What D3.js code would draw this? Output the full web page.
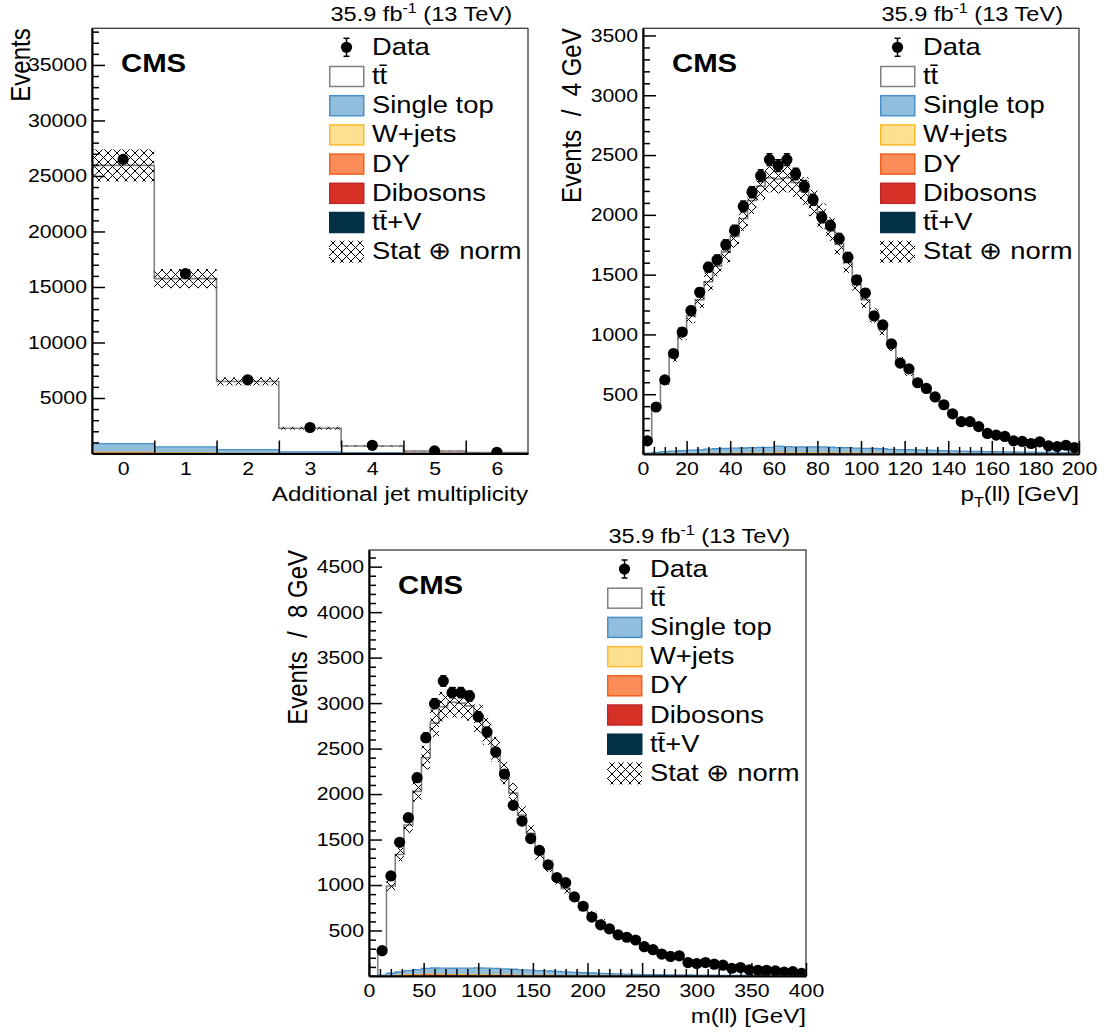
<!DOCTYPE html>
<html><head><meta charset="utf-8">
<script src="https://cdn.jsdelivr.net/npm/d3@7"></script>
<style>
body{margin:0;background:#fff}
svg text{font-family:"Liberation Sans",Arial,Helvetica,sans-serif;fill:#000}
</style>
</head><body>
<svg id="chart" width="1104" height="1034"></svg>
<script>
// ---------------- DATA ----------------
const lumiLabel = "35.9 fb";
const legendLabels = ["Data", "tt\u0304", "Single top", "W+jets", "DY", "Dibosons", "tt\u0304+V", "Stat \u2295 norm"];

// Panel 1: additional jet multiplicity
const njetCategories = ["0", "1", "2", "3", "4", "5", "6"];
const njetData      = [26490, 16200, 6640, 2340, 740, 230, 110];
const njetTotalMC   = [25950, 15750, 6490, 2276, 682, 220, 80];
const njetUnc       = [1450, 860, 360, 130, 45, 18, 8];
const njetSingleTop = [730, 480, 280, 110, 40, 12, 4];
const njetWjets     = [5, 3, 2, 1, 0, 0, 0];
const njetDY        = [110, 60, 30, 12, 5, 2, 1];
const njetDiboson   = [25, 15, 8, 4, 2, 1, 0];
const njetTTV       = [20, 30, 25, 15, 8, 3, 1];

// Panel 2: pT(ll), 4 GeV bins from 0 to 200
const ptData = [110, 393, 620, 840, 1020, 1200, 1352, 1562, 1624, 1750,
  1870, 2071, 2189, 2328, 2462, 2412, 2462, 2342, 2239, 2127,
  1979, 1910, 1801, 1645, 1455, 1346, 1155, 1079, 921, 760,
  712, 596, 548, 477, 412, 336, 271, 271, 229, 172,
  158, 147, 110, 105, 88, 102, 68, 62, 73, 54];
const ptTotalMC = [105, 385, 610, 815, 1005, 1155, 1290, 1440, 1570, 1690,
  1820, 1970, 2120, 2240, 2310, 2300, 2310, 2270, 2200, 2100,
  1990, 1880, 1760, 1600, 1420, 1290, 1160, 1050, 910, 770,
  690, 600, 535, 470, 405, 335, 285, 255, 215, 175,
  155, 135, 115, 100, 90, 80, 70, 62, 55, 50];
const ptUnc = [6, 20, 32, 43, 53, 61, 68, 76, 83, 90,
  96, 104, 112, 118, 122, 122, 122, 120, 116, 111,
  105, 100, 93, 85, 75, 68, 61, 56, 48, 41,
  37, 32, 28, 25, 22, 18, 15, 14, 12, 10,
  9, 8, 7, 6, 5, 5, 4, 4, 3, 3];
const ptSingleTop = [6, 11, 15, 18, 21, 24, 27, 30, 33, 35,
  37, 39, 40, 42, 43, 50, 46, 45, 45, 46,
  45, 43, 41, 39, 37, 36, 34, 33, 30, 28,
  27, 25, 24, 22, 21, 19, 18, 16, 16, 15,
  14, 13, 13, 12, 11, 10, 10, 9, 9, 8];
const ptDY = [1, 2, 3, 3, 4, 5, 5, 6, 6, 7,
  7, 7, 8, 8, 8, 9, 8, 8, 8, 8,
  8, 8, 7, 7, 7, 6, 6, 6, 5, 5,
  5, 5, 4, 4, 4, 4, 3, 3, 3, 3,
  3, 3, 2, 2, 2, 2, 2, 2, 2, 2];
const ptWjets = [0, 0, 0, 1, 0, 1, 0, 1, 1, 0,
  1, 0, 1, 1, 0, 1, 1, 0, 1, 0,
  0, 1, 0, 1, 0, 0, 1, 0, 0, 0,
  0, 0, 1, 0, 0, 0, 0, 0, 0, 0,
  0, 0, 0, 0, 0, 0, 0, 0, 0, 0];
const ptDiboson = [0, 1, 1, 1, 1, 1, 2, 2, 2, 2,
  2, 2, 2, 2, 3, 3, 3, 3, 3, 3,
  3, 3, 3, 3, 2, 2, 2, 2, 2, 2,
  2, 2, 2, 2, 1, 1, 1, 1, 1, 1,
  1, 1, 1, 1, 1, 1, 1, 1, 1, 1];
const ptTTV = [0, 0, 1, 1, 1, 1, 1, 1, 2, 2,
  2, 2, 2, 2, 2, 3, 3, 3, 3, 3,
  3, 3, 3, 3, 3, 3, 3, 3, 2, 2,
  2, 2, 2, 2, 2, 2, 2, 2, 1, 1,
  1, 1, 1, 1, 1, 1, 1, 0, 0, 0];

// Panel 3: m(ll), 8 GeV bins from 0 to 400
const mllData = [0, 278, 1100, 1470, 1740, 2180, 2620, 2994, 3243, 3115,
  3115, 3078, 2851, 2682, 2462, 2220, 1876, 1703, 1511, 1380,
  1222, 1081, 1026, 870, 767, 648, 563, 519, 452, 426,
  396, 322, 289, 241, 215, 222, 148, 137, 148, 130,
  119, 85, 93, 67, 63, 63, 56, 44, 48, 30];
const mllTotalMC = [0, 285, 990, 1335, 1660, 2030, 2400, 2780, 2960, 3010,
  3000, 2970, 2830, 2690, 2490, 2230, 2010, 1770, 1570, 1350,
  1210, 1065, 960, 860, 765, 680, 595, 525, 465, 420,
  380, 330, 290, 255, 225, 200, 175, 155, 140, 125,
  110, 95, 85, 75, 68, 60, 53, 47, 42, 37];
const mllUnc = [0, 16, 54, 73, 91, 112, 132, 153, 163, 166,
  165, 163, 156, 148, 137, 123, 111, 97, 86, 74,
  67, 59, 53, 47, 42, 37, 33, 29, 26, 23,
  21, 18, 16, 14, 12, 11, 10, 9, 8, 7,
  6, 5, 5, 4, 4, 3, 3, 3, 2, 2];
const mllSingleTop = [0, 6, 18, 28, 38, 47, 57, 62, 62, 62,
  65, 67, 69, 66, 64, 60, 57, 53, 50, 46,
  42, 38, 35, 31, 28, 25, 22, 19, 17, 16,
  14, 12, 11, 10, 9, 8, 8, 7, 6, 6,
  5, 5, 5, 5, 4, 4, 4, 3, 3, 3];
const mllDY = [0, 3, 9, 12, 15, 17, 19, 18, 16, 14,
  13, 12, 12, 11, 10, 10, 9, 8, 8, 7,
  7, 6, 5, 5, 4, 4, 3, 3, 3, 2,
  2, 2, 2, 2, 2, 2, 1, 1, 1, 1,
  1, 1, 1, 1, 1, 1, 1, 1, 1, 1];
const mllWjets = [0, 0, 1, 1, 1, 1, 2, 1, 1, 2,
  1, 1, 1, 1, 1, 0, 1, 0, 0, 0,
  0, 0, 0, 0, 0, 0, 0, 0, 0, 0,
  0, 0, 0, 0, 0, 0, 0, 0, 0, 0,
  0, 0, 0, 0, 0, 0, 0, 0, 0, 0];
const mllDiboson = [0, 0, 1, 2, 3, 3, 3, 4, 4, 4,
  4, 4, 4, 4, 4, 4, 3, 3, 3, 3,
  3, 3, 2, 2, 2, 2, 2, 2, 1, 1,
  1, 1, 1, 1, 1, 1, 1, 1, 1, 1,
  1, 1, 0, 0, 0, 0, 0, 0, 0, 0];
const mllTTV = [0, 0, 1, 1, 2, 2, 3, 3, 3, 3,
  3, 3, 4, 4, 4, 4, 4, 4, 3, 3,
  3, 3, 3, 2, 2, 2, 2, 2, 2, 1,
  1, 1, 1, 1, 1, 1, 1, 1, 1, 0,
  0, 0, 0, 0, 0, 0, 0, 0, 0, 0];

// ---------------- STYLE ----------------
const SX = 1.15; // horizontal glyph stretch of the reference rendering
const colors = {
  ttv: {fill: "#023047", stroke: "#023047"},
  dib: {fill: "#d73027", stroke: "#c0262a"},
  dy:  {fill: "#fc8d59", stroke: "#f0611f"},
  wj:  {fill: "#fee090", stroke: "#fdb92c"},
  st:  {fill: "#91bfdb", stroke: "#4a90c8"},
  tt:  {fill: "#ffffff", stroke: "#808080"}
};

const svg = d3.select("#chart");
svg.append("rect").attr("width", 1104).attr("height", 1034).attr("fill", "#fff");
const defs = svg.append("defs");
const pat = defs.append("pattern").attr("id", "hatch").attr("patternUnits", "userSpaceOnUse")
  .attr("width", 9).attr("height", 9);
pat.append("path").attr("d", "M-1,-1L10,10M10,-1L-1,10").attr("stroke", "#000").attr("stroke-width", 1).attr("fill", "none");

function txt(parent, x, y, size, opts = {}) {
  const t = parent.append("text")
    .attr("transform", `translate(${x},${y}) scale(${SX},1)` + (opts.rot ? ` rotate(${opts.rot})` : ""))
    .attr("font-size", size)
    .attr("text-anchor", opts.anchor || "start")
    .attr("font-weight", opts.weight || "normal")
    .attr("xml:space", "preserve")
    .style("white-space", "pre");
  return t;
}

function drawPanel(p) {
  const g = svg.append("g");
  const x = d3.scaleLinear().domain(p.xDomain).range([p.L, p.R]);
  const y = d3.scaleLinear().domain([0, p.yMax]).range([p.B, p.T]);
  const n = p.data.length;
  const clipId = "clip-" + p.id;
  defs.append("clipPath").attr("id", clipId).append("rect")
    .attr("x", p.L).attr("y", p.T).attr("width", p.R - p.L).attr("height", p.B - p.T);
  const plot = g.append("g").attr("clip-path", `url(#${clipId})`);

  const rows = d3.range(n).map(i => ({ttv: p.ttv[i], dib: p.dib[i], dy: p.dy[i], wj: p.wj[i], st: p.st[i]}));
  const series = d3.stack().keys(["ttv", "dib", "dy", "wj", "st"])(rows);
  const pts = (f0, f1) => {
    const a = d3.range(n).map(i => ({x: p.edges[i], y0: f0(i), y1: f1(i)}));
    a.push({x: p.edges[n], y0: f0(n - 1), y1: f1(n - 1)});
    return a;
  };
  const area = d3.area().x(d => x(d.x)).y0(d => y(d.y0)).y1(d => y(d.y1)).curve(d3.curveStepAfter);
  const line = d3.line().x(d => x(d.x)).y(d => y(d.y1)).curve(d3.curveStepAfter);
  const bkgTop = i => series[series.length - 1][i][1];

  // ttbar (white) on top of the backgrounds
  plot.append("path").attr("d", area(pts(bkgTop, i => p.total[i]))).attr("fill", colors.tt.fill);
  series.forEach(s => {
    const c = colors[s.key];
    plot.append("path").attr("d", area(pts(i => s[i][0], i => s[i][1]))).attr("fill", c.fill);
    plot.append("path").attr("d", line(pts(i => s[i][0], i => s[i][1])))
      .attr("fill", "none").attr("stroke", c.stroke).attr("stroke-width", 1.3);
  });
  const outline = [{x: p.edges[0], y1: 0}]
    .concat(d3.range(n).map(i => ({x: p.edges[i], y1: p.total[i]})))
    .concat([{x: p.edges[n], y1: p.total[n - 1]}, {x: p.edges[n], y1: 0}]);
  plot.append("path").attr("d", line(outline)).attr("fill", "none")
    .attr("stroke", colors.tt.stroke).attr("stroke-width", 1.6);

  // uncertainty band
  plot.selectAll(null).data(d3.range(n).filter(i => p.unc[i] > 0)).join("rect")
    .attr("x", i => x(p.edges[i])).attr("width", i => x(p.edges[i + 1]) - x(p.edges[i]))
    .attr("y", i => y(p.total[i] + p.unc[i]))
    .attr("height", i => y(p.total[i] - p.unc[i]) - y(p.total[i] + p.unc[i]))
    .attr("fill", "url(#hatch)");

  // data points
  const di = d3.range(n).filter(i => p.data[i] > 0);
  const cx = i => x((p.edges[i] + p.edges[i + 1]) / 2);
  const err = i => Math.sqrt(p.data[i]);
  const dg = plot.append("g");
  dg.selectAll(null).data(di).join("line")
    .attr("x1", cx).attr("x2", cx)
    .attr("y1", i => y(p.data[i] + err(i))).attr("y2", i => y(p.data[i] - err(i)))
    .attr("stroke", "#000").attr("stroke-width", 1.5);
  dg.selectAll(null).data(di.flatMap(i => [[i, 1], [i, -1]])).join("line")
    .attr("x1", d => cx(d[0]) - 3).attr("x2", d => cx(d[0]) + 3)
    .attr("y1", d => y(p.data[d[0]] + d[1] * err(d[0]))).attr("y2", d => y(p.data[d[0]] + d[1] * err(d[0])))
    .attr("stroke", "#000").attr("stroke-width", 1.5);
  dg.selectAll(null).data(di).join("circle")
    .attr("cx", cx).attr("cy", i => y(p.data[i])).attr("r", 5.6).attr("fill", "#000");

  // frame
  g.append("rect").attr("x", p.L).attr("y", p.T).attr("width", p.R - p.L).attr("height", p.B - p.T)
    .attr("fill", "none").attr("stroke", "#3a3a3a").attr("stroke-width", 1.3);

  const styleAxis = (ax, labelSize) => {
    ax.attr("font-size", null).attr("font-family", null);
    ax.selectAll(".tick line").attr("stroke", "#000").attr("stroke-width", 1.5);
    ax.select(".domain").attr("stroke", "#000").attr("stroke-width", 2);
    ax.selectAll("text").attr("font-size", labelSize).attr("fill", "#000")
      .each(function () {
        const t = d3.select(this);
        t.attr("x", (+t.attr("x") || 0) / SX).attr("transform", `scale(${SX},1)`);
      });
  };

  // y axis
  const ya = g.append("g").attr("transform", `translate(${p.L},0)`)
    .call(d3.axisLeft(y).tickValues(p.yMajor).tickSizeInner(-13).tickSizeOuter(0).tickPadding(5).tickFormat(d3.format("d")));
  styleAxis(ya, 18.5);
  const yam = g.append("g").attr("transform", `translate(${p.L},0)`)
    .call(d3.axisLeft(y).tickValues(p.yMinor).tickSizeInner(-7).tickSizeOuter(0).tickFormat(""));
  yam.select(".domain").remove();
  styleAxis(yam, 18.5);

  // x axis
  const xa = g.append("g").attr("transform", `translate(0,${p.B})`)
    .call(d3.axisBottom(x).tickValues(p.xMajor).tickSizeInner(-13).tickSizeOuter(0).tickPadding(8)
      .tickFormat(p.xLabels ? "" : d3.format("d")));
  styleAxis(xa, 18.5);
  if (p.xMinor) {
    const xam = g.append("g").attr("transform", `translate(0,${p.B})`)
      .call(d3.axisBottom(x).tickValues(p.xMinor).tickSizeInner(-7).tickSizeOuter(0).tickFormat(""));
    xam.select(".domain").remove();
    styleAxis(xam, 18.5);
  }
  if (p.xLabels) {
    const xl = g.append("g").attr("transform", `translate(0,${p.B})`)
      .call(d3.axisBottom(x).tickValues(d3.range(p.xLabels.length)).tickSize(0).tickPadding(8)
        .tickFormat(i => p.xLabels[i]));
    xl.select(".domain").remove();
    styleAxis(xl, 18.5);
  }

  // luminosity label
  const lt = txt(g, p.R - 16, p.T - 7, 20.5, {anchor: "end"});
  lt.append("tspan").text(lumiLabel);
  lt.append("tspan").attr("font-size", 14).attr("dy", -8).text("-1");
  lt.append("tspan").attr("font-size", 20.5).attr("dy", 8).text(" (13 TeV)");

  // CMS
  txt(g, p.L + 29, p.T + 43.5, 25.5, {weight: "bold"}).text("CMS");

  // axis titles
  p.xTitle(txt(g, p.R, p.B + 47, 21, {anchor: "end"}));
  txt(g, p.L - 62, p.T, 24, {anchor: "end", rot: -90}).text(p.yTitle);

  // legend
  const lx = p.R - 199, ly0 = p.T + 19, step = 29.2;
  const lg = g.append("g");
  const boxKeys = [null, "tt", "st", "wj", "dy", "dib", "ttv", "hatch"];
  legendLabels.forEach((lab, k) => {
    const cy = ly0 + k * step;
    if (k === 0) {
      const mx = lx + 17.5;
      lg.append("line").attr("x1", mx).attr("x2", mx).attr("y1", cy - 9).attr("y2", cy + 9).attr("stroke", "#000").attr("stroke-width", 1.5);
      [-9, 9].forEach(o => lg.append("line").attr("x1", mx - 3).attr("x2", mx + 3).attr("y1", cy + o).attr("y2", cy + o).attr("stroke", "#000").attr("stroke-width", 1.5));
      lg.append("circle").attr("cx", mx).attr("cy", cy).attr("r", 5.6).attr("fill", "#000");
    } else if (boxKeys[k] === "hatch") {
      lg.append("rect").attr("x", lx).attr("y", cy - 11).attr("width", 35).attr("height", 22).attr("fill", "url(#hatch)");
    } else {
      const c = colors[boxKeys[k]];
      lg.append("rect").attr("x", lx + 0.75).attr("y", cy - 10).attr("width", 34).attr("height", 20)
        .attr("fill", c.fill).attr("stroke", c.stroke).attr("stroke-width", 1.5);
    }
    txt(lg, p.R - 156, cy + 7.5, 23.8).text(lab);
  });
}

drawPanel({
  id: "njet", L: 92, R: 528, T: 28.3, B: 453.5,
  xDomain: [-0.5, 6.5], edges: d3.range(-0.5, 7, 1), yMax: 38300,
  data: njetData, total: njetTotalMC, unc: njetUnc,
  st: njetSingleTop, wj: njetWjets, dy: njetDY, dib: njetDiboson, ttv: njetTTV,
  yMajor: d3.range(5000, 36000, 5000), yMinor: d3.range(1000, 38300, 1000).filter(v => v % 5000 !== 0),
  xMajor: d3.range(0.5, 6, 1), xMinor: null, xLabels: njetCategories,
  xTitle: t => t.text("Additional jet multiplicity"),
  yTitle: "Events"
});

drawPanel({
  id: "pt", L: 643, R: 1079, T: 28.3, B: 454,
  xDomain: [0, 200], edges: d3.range(0, 201, 4), yMax: 3560,
  data: ptData, total: ptTotalMC, unc: ptUnc,
  st: ptSingleTop, wj: ptWjets, dy: ptDY, dib: ptDiboson, ttv: ptTTV,
  yMajor: d3.range(500, 3600, 500), yMinor: d3.range(100, 3560, 100).filter(v => v % 500 !== 0),
  xMajor: d3.range(0, 201, 20), xMinor: d3.range(0, 201, 5).filter(v => v % 20 !== 0),
  xTitle: t => {
    t.append("tspan").text("p");
    t.append("tspan").attr("font-size", 14).attr("dy", 6).text("T");
    t.append("tspan").attr("font-size", 21).attr("dy", -6).text("(ll) [GeV]");
  },
  yTitle: "Events  /  4 GeV"
});

drawPanel({
  id: "mll", L: 369, R: 806, T: 550, B: 976,
  xDomain: [0, 400], edges: d3.range(0, 401, 8), yMax: 4683,
  data: mllData, total: mllTotalMC, unc: mllUnc,
  st: mllSingleTop, wj: mllWjets, dy: mllDY, dib: mllDiboson, ttv: mllTTV,
  yMajor: d3.range(500, 4600, 500), yMinor: d3.range(100, 4683, 100).filter(v => v % 500 !== 0),
  xMajor: d3.range(0, 401, 50), xMinor: d3.range(0, 401, 10).filter(v => v % 50 !== 0),
  xTitle: t => t.text("m(ll) [GeV]"),
  yTitle: "Events  /  8 GeV"
});
</script>
</body></html>
